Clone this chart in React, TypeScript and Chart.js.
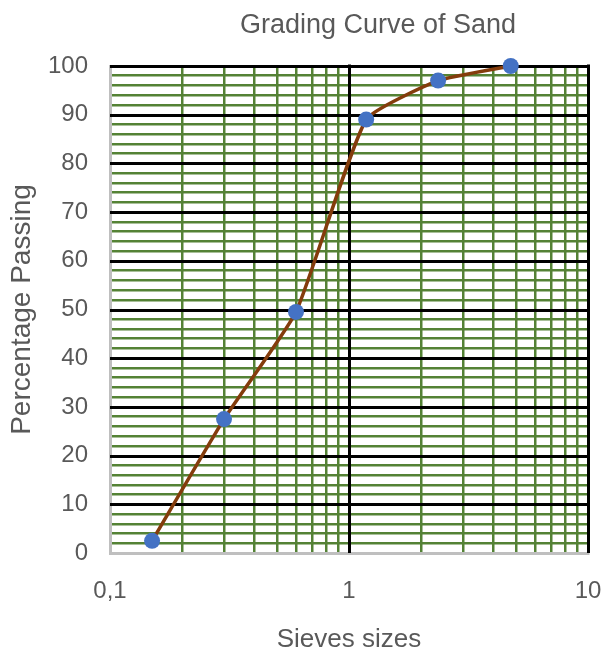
import React, { useEffect, useRef } from "react";
import { Chart, registerables } from "chart.js";

Chart.register(...registerables);

const TITLE = "Grading Curve of Sand";
const X_TITLE = "Sieves sizes";
const Y_TITLE = "Percentage Passing";

const sieveSizes = [0.15, 0.3, 0.6, 1.18, 2.36, 4.75];
const percentPassing = [2.5, 27.5, 49.5, 89, 97, 100];

const xGridValues = [0.1, 0.2, 0.3, 0.4, 0.5, 0.6, 0.7, 0.8, 0.9, 1, 2, 3, 4, 5, 6, 7, 8, 9, 10];
const xTickLabels: Record<string, string> = { "0.1": "0,1", "1": "1", "10": "10" };

const TEXT_COLOR = "#595959";
const MAJOR_GRID = "#000000";
const MINOR_GRID = "#548235";
const FONT = "'Liberation Sans', Arial, sans-serif";
const TRANSPARENT = "rgba(0,0,0,0)";

const isDecade = (v: number) => Math.abs(Math.log10(v) - Math.round(Math.log10(v))) < 1e-9;
const isXMajor = (v: number) => isDecade(v) && Math.abs(v - 0.1) > 1e-9;
const isYMajor = (v: number) => v % 10 === 0 && v !== 0;

const titlePlugin = {
  id: "customTitle",
  afterDraw(chart: any) {
    const { ctx, chartArea } = chart;
    ctx.save();
    ctx.font = "27px " + FONT;
    ctx.fillStyle = TEXT_COLOR;
    ctx.textAlign = "center";
    ctx.textBaseline = "alphabetic";
    const cx = (chartArea.left + chartArea.right) / 2 + 29;
    ctx.fillText(TITLE, cx, chartArea.top - 33);
    ctx.restore();
  },
};

// draws the major (black) grid lines on top of the minor (green) ones
const majorGridPlugin = {
  id: "majorGrid",
  beforeDatasetsDraw(chart: any) {
    const { ctx, chartArea, scales } = chart;
    ctx.save();
    ctx.strokeStyle = MAJOR_GRID;
    ctx.lineWidth = 3;
    ctx.lineCap = "butt";
    for (const t of scales.y.ticks) {
      if (!isYMajor(t.value)) continue;
      const y = Math.round(scales.y.getPixelForValue(t.value)) + 0.5;
      ctx.beginPath();
      ctx.moveTo(chartArea.left, y);
      ctx.lineTo(chartArea.right + 1.5, y);
      ctx.stroke();
    }
    for (const t of scales.x.ticks) {
      if (!isXMajor(t.value)) continue;
      const x = Math.round(scales.x.getPixelForValue(t.value)) + 0.5;
      ctx.beginPath();
      ctx.moveTo(x, chartArea.top - 1.5);
      ctx.lineTo(x, chartArea.bottom);
      ctx.stroke();
    }
    ctx.restore();
  },
};

export default function App() {
  const ref = useRef<HTMLCanvasElement>(null);

  useEffect(() => {
    if (!ref.current) return;
    const chart = new Chart(ref.current, {
      type: "line",
      data: {
        datasets: [
          {
            data: sieveSizes.map((x, i) => ({ x, y: percentPassing[i] })),
            borderColor: "#843C0C",
            borderWidth: 3.5,
            tension: 0.15,
            pointRadius: 8,
            pointHoverRadius: 8,
            pointBackgroundColor: "#4472C4",
            pointBorderColor: "#4472C4",
            pointBorderWidth: 0,
            clip: false as any,
          },
        ],
      },
      options: {
        animation: false,
        responsive: false,
        maintainAspectRatio: false,
        layout: { padding: { top: 66, right: 17, bottom: 0, left: 0 } },
        plugins: {
          legend: { display: false },
          tooltip: { enabled: false },
          title: { display: false },
        },
        scales: {
          x: {
            type: "logarithmic",
            min: 0.1,
            max: 10,
            afterBuildTicks: (scale: any) => {
              scale.ticks = xGridValues.map((v) => ({ value: v }));
            },
            afterFit: (scale: any) => {
              scale.height = 102;
              scale.paddingLeft = 0;
              scale.paddingRight = 0;
            },
            ticks: {
              autoSkip: false,
              maxRotation: 0,
              padding: 24,
              color: TEXT_COLOR,
              font: { family: FONT, size: 24 },
              callback: (v: any) => {
                const key = String(Number(v));
                return xTickLabels[key] ?? "";
              },
            },
            grid: {
              drawTicks: false,
              color: (ctx: any) => {
                const v = ctx.tick?.value;
                if (v === undefined) return MINOR_GRID;
                return isDecade(v) ? TRANSPARENT : MINOR_GRID;
              },
              lineWidth: 2.5,
            },
            border: { display: true, color: "#bfbfbf", width: 3 },
            title: {
              display: true,
              text: X_TITLE,
              color: TEXT_COLOR,
              font: { family: FONT, size: 26 },
              padding: { top: 0, bottom: 0 },
            },
          },
          y: {
            type: "linear",
            min: 0,
            max: 100,
            afterFit: (scale: any) => {
              scale.width = 110;
            },
            ticks: {
              stepSize: 2,
              autoSkip: false,
              padding: 22,
              color: TEXT_COLOR,
              font: { family: FONT, size: 24 },
              callback: (v: any) => (Number(v) % 10 === 0 ? String(v) : ""),
            },
            grid: {
              drawTicks: false,
              color: (ctx: any) => {
                const v = ctx.tick?.value;
                if (v === undefined) return MINOR_GRID;
                return v % 10 === 0 ? TRANSPARENT : MINOR_GRID;
              },
              lineWidth: 2.5,
            },
            border: { display: true, color: "#bfbfbf", width: 3 },
            title: {
              display: true,
              text: Y_TITLE,
              color: TEXT_COLOR,
              font: { family: FONT, size: 28 },
              padding: { top: 5, bottom: 0 },
            },
          },
        },
      },
      plugins: [titlePlugin, majorGridPlugin],
    });
    return () => chart.destroy();
  }, []);

  return (
    <div style={{ position: "fixed", left: 0, top: 0, width: 605, height: 655, background: "#fff" }}>
      <canvas ref={ref} width={605} height={655} style={{ width: 605, height: 655 }} />
    </div>
  );
}
